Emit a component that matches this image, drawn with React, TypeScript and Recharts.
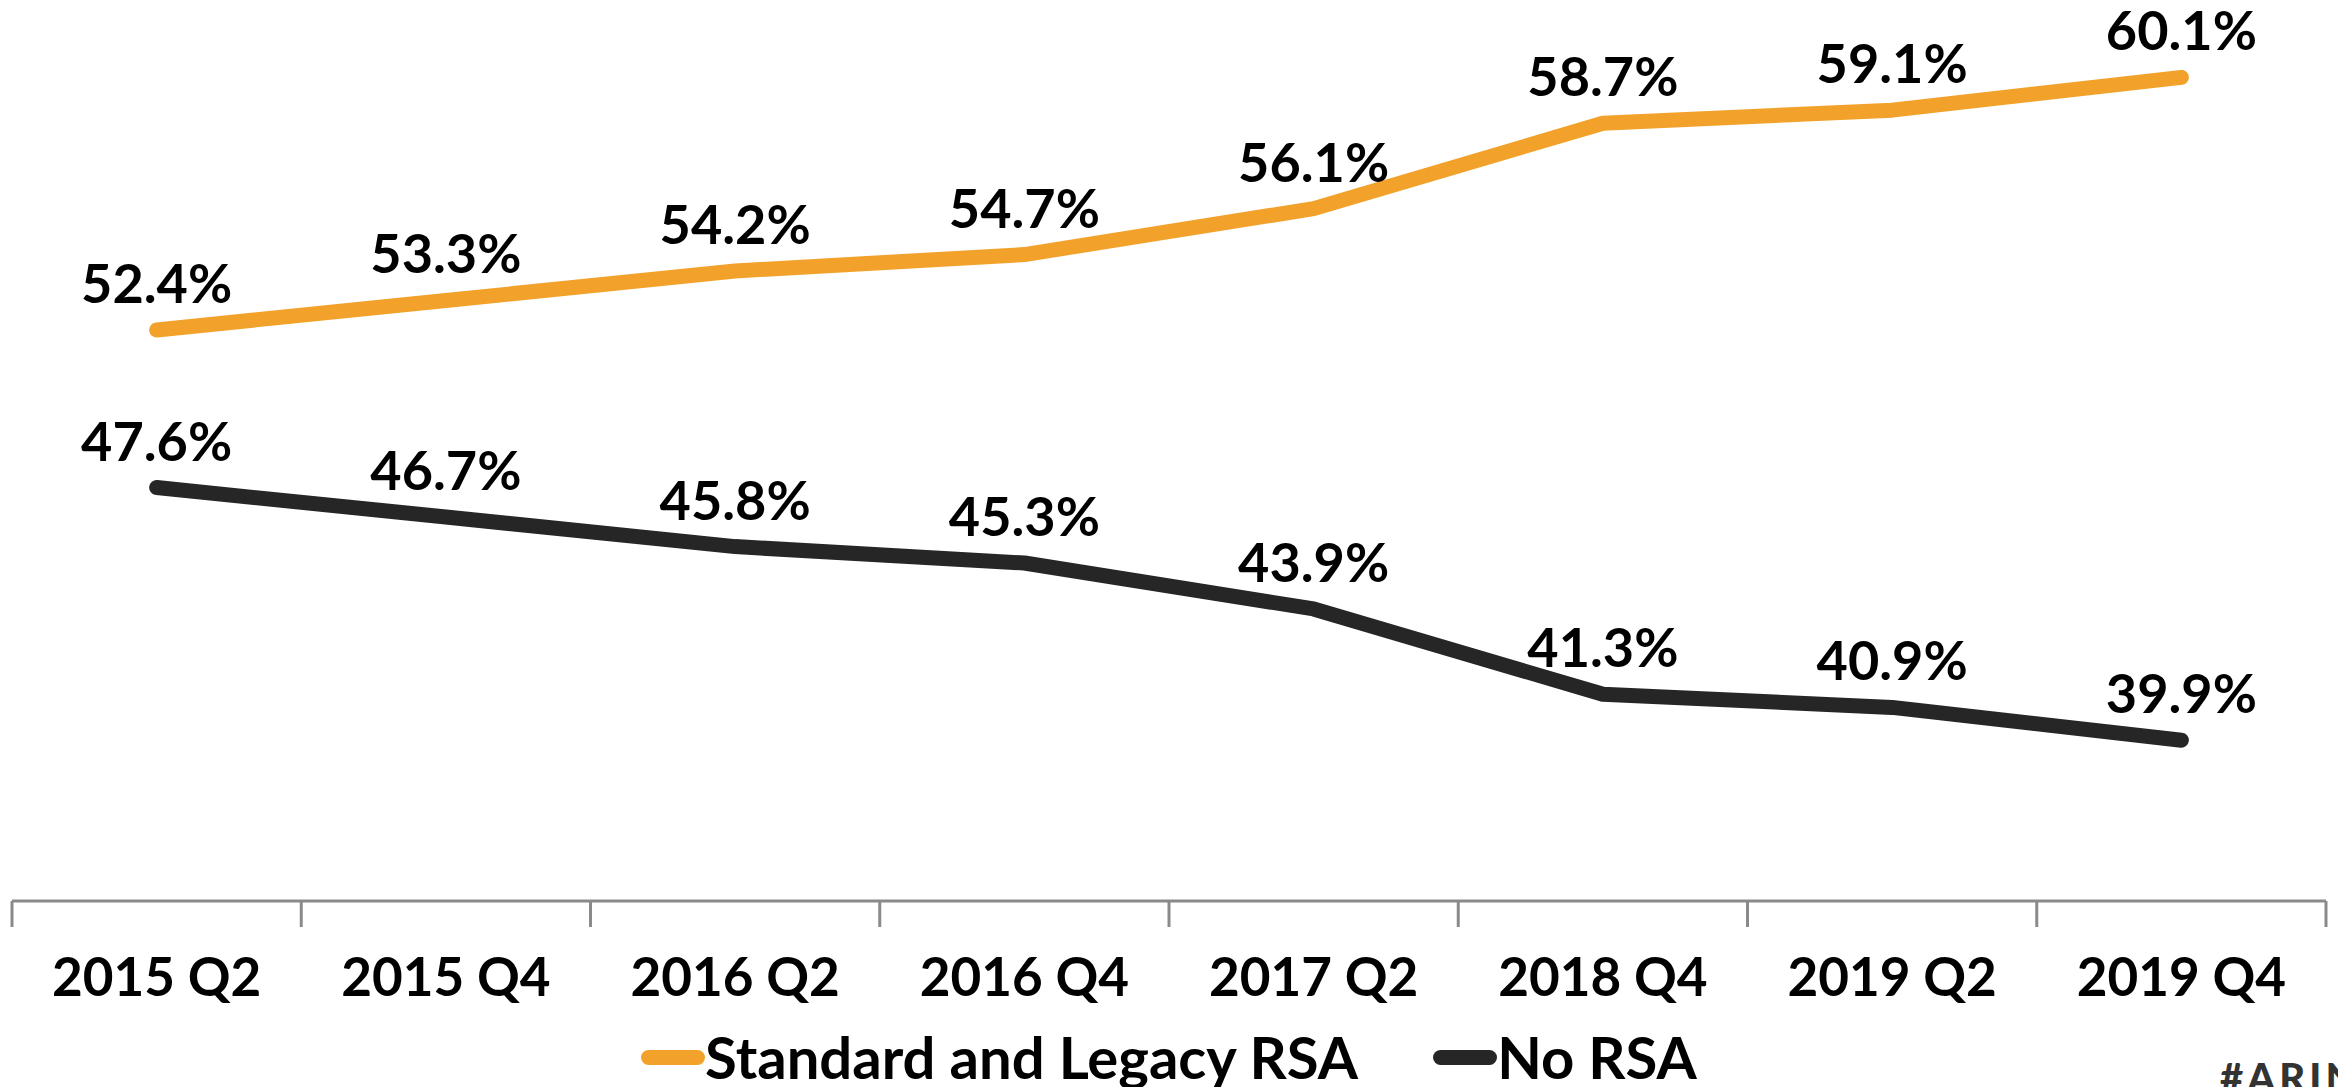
import { LineChart, Line, XAxis, YAxis, LabelList, Legend } from "recharts"

const quarters = ["2015 Q2", "2015 Q4", "2016 Q2", "2016 Q4", "2017 Q2", "2018 Q4", "2019 Q2", "2019 Q4"]
const standardLegacy = [52.4, 53.3, 54.2, 54.7, 56.1, 58.7, 59.1, 60.1]
const noRsa = [47.6, 46.7, 45.8, 45.3, 43.9, 41.3, 40.9, 39.9]
const seriesNames = ["Standard and Legacy RSA", "No RSA"]
const seriesColors = ["#F2A22B", "#262626"]

const data = quarters.map((quarter, i) => ({
  quarter,
  standard: standardLegacy[i],
  none: noRsa[i],
}))

const WIDTH = 2338
const HEIGHT = 1087
const MARGIN = { top: 15, right: 12, bottom: 0, left: 12 }
const LEGEND_H = 60
const XAXIS_H = 126
const AXIS_Y = HEIGHT - MARGIN.bottom - LEGEND_H - XAXIS_H
const STEP = (WIDTH - MARGIN.left - MARGIN.right) / quarters.length
const FONT = "Lato, 'Open Sans', sans-serif"
const AXIS_GREY = "#8a8a8a"

function QuarterTick(props: any) {
  const { x, payload, index } = props
  const left = x - STEP / 2
  return (
    <g>
      <line x1={left} x2={left} y1={AXIS_Y} y2={AXIS_Y + 26} stroke={AXIS_GREY} strokeWidth={3} />
      {index === quarters.length - 1 && (
        <line x1={x + STEP / 2} x2={x + STEP / 2} y1={AXIS_Y} y2={AXIS_Y + 26} stroke={AXIS_GREY} strokeWidth={3} />
      )}
      <text x={x} y={AXIS_Y + 95} textAnchor="middle" fill="#000" fontSize={53} fontWeight={700} fontFamily={FONT}>
        {payload.value}
      </text>
    </g>
  )
}

function LegendContent() {
  return (
    <div
      style={{
        display: "flex",
        justifyContent: "center",
        alignItems: "center",
        height: LEGEND_H,
        fontFamily: FONT,
        fontWeight: 700,
        fontSize: 58,
        color: "#000",
      }}
    >
      {seriesNames.map((name, i) => (
        <div key={name} style={{ display: "flex", alignItems: "center", marginLeft: i ? 75 : 0 }}>
          <span style={{ width: 64, height: 15, borderRadius: 8, background: seriesColors[i], display: "inline-block" }} />
          <span style={{ lineHeight: 1 }}>{name}</span>
        </div>
      ))}
    </div>
  )
}

const pct = (v: any) => `${Number(v).toFixed(1)}%`

export default function App() {
  return (
    <div style={{ position: "relative", width: WIDTH, height: HEIGHT, overflow: "hidden", background: "#fff" }}>
      <style>{"body{margin:0}"}</style>
      <LineChart width={WIDTH} height={HEIGHT} data={data} margin={MARGIN}>
        <XAxis
          dataKey="quarter"
          height={XAXIS_H}
          interval={0}
          padding={{ left: STEP / 2, right: STEP / 2 }}
          axisLine={{ stroke: AXIS_GREY, strokeWidth: 3 }}
          tickLine={false}
          tick={<QuarterTick />}
        />
        <YAxis hide domain={[35, 62]} />
        <Legend verticalAlign="bottom" height={LEGEND_H} content={<LegendContent />} />
        <Line
          dataKey="standard"
          name={seriesNames[0]}
          stroke={seriesColors[0]}
          strokeWidth={15}
          strokeLinecap="round"
          strokeLinejoin="round"
          dot={false}
          activeDot={false}
          isAnimationActive={false}
        >
          <LabelList dataKey="standard" position="top" offset={27} formatter={pct} fill="#000" fontSize={54} fontWeight={700} fontFamily={FONT} />
        </Line>
        <Line
          dataKey="none"
          name={seriesNames[1]}
          stroke={seriesColors[1]}
          strokeWidth={15}
          strokeLinecap="round"
          strokeLinejoin="round"
          dot={false}
          activeDot={false}
          isAnimationActive={false}
        >
          <LabelList dataKey="none" position="top" offset={27} formatter={pct} fill="#000" fontSize={54} fontWeight={700} fontFamily={FONT} />
        </Line>
      </LineChart>
      <div
        style={{
          position: "absolute",
          left: 2220,
          top: 1057,
          fontFamily: FONT,
          fontWeight: 900,
          fontSize: 40,
          lineHeight: 1,
          letterSpacing: 4,
          color: "#333",
          whiteSpace: "nowrap",
        }}
      >
        #ARIN
      </div>
    </div>
  )
}
